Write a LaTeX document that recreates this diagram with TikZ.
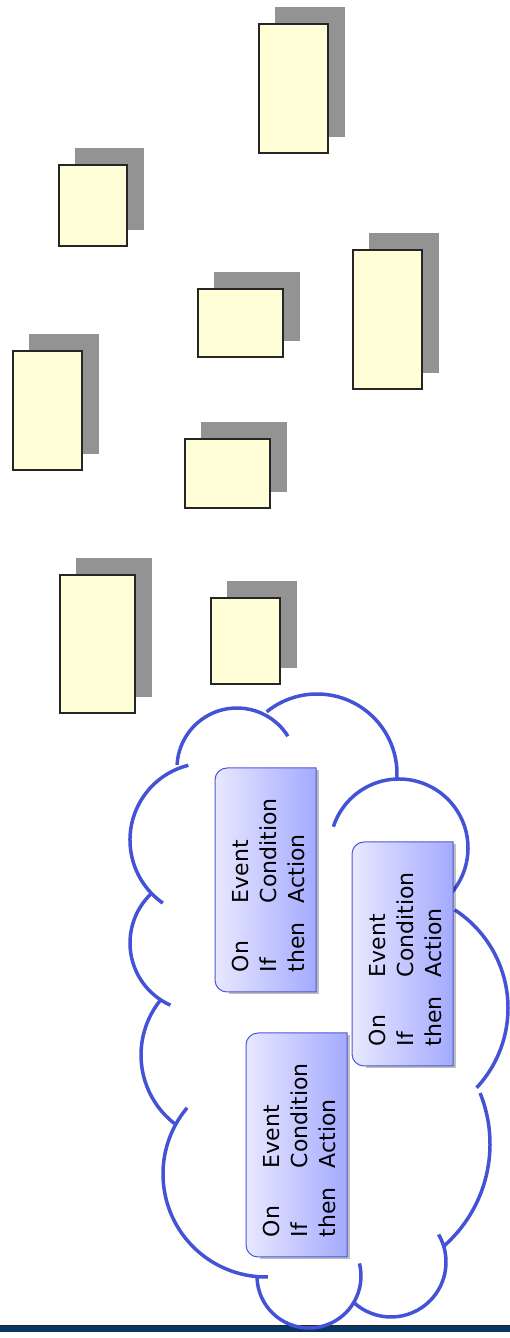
\documentclass[tikz,border=0pt]{standalone}
\usepackage{fontspec}
\setmainfont{DejaVu Sans}
\usepackage{xcolor}
\definecolor{notefill}{HTML}{FFFED6}
\definecolor{noteshadow}{HTML}{939393}
\definecolor{cloudblue}{HTML}{4452D6}
\definecolor{rulelight}{HTML}{E8E8FF}
\definecolor{ruledark}{HTML}{A4AAFF}
\definecolor{ruleedge}{HTML}{4A58D8}
\definecolor{barnavy}{HTML}{0B3563}

\begin{document}
\begin{tikzpicture} [x=1pt, y=1pt] %notes and rule cloud
\useasboundingbox (0,0) rectangle (510,1338);
\fill[barnavy] (0,6) rectangle (510,13);
\fill[black!85] (0,11.5) rectangle (510,13);
\foreach \x/\y/\w/\h in {259/1185/69/129, 59/1092/68/81, 198/981/85/68, 353/949/69/139, 13/868/69/119, 185/830/85/69, 60/625/75/138, 211/654/69/86}
{
\fill[noteshadow] (\x+15.5,\y+15.5) rectangle ++(\w+1.5,\h+1.5);
\filldraw[fill=notefill, draw=black!85, line width=1.3pt] (\x,\y) rectangle ++(\w,\h);
}
\foreach \cx/\cy/\r/\a/\b in {317/564/80/-4/129, 237/570/60/32/177, 207/498/77/104/235, 198/395/68/133/246, 228/283/87/141/232, 266/164/103/140/271, 309/62/52/181/374, 391/76/55/226/390, 354/194/136/-49/22, 391/330/117/-43/57, 399/490/69/-48/162}
\draw[cloudblue, line width=3.5pt] (\cx,\cy) ++(\a:\r) arc [start angle=\a, end angle=\b, radius=\r];
\foreach \x/\y/\n in {215/346/1, 352/272/2, 246/81/3}
{
\fill[black, opacity=0.25] (\x+14,\y-2.5) rectangle ++(89.5,224);
\shadedraw[left color=rulelight, right color=ruledark, draw=ruleedge, line width=1pt] (\x+12,\y) -- (\x+101,\y) -- (\x+101,\y+224) -- (\x+12,\y+224) arc [start angle=90, end angle=180, radius=12] -- (\x,\y+12) arc [start angle=180, end angle=270, radius=12] -- cycle;
\node[rotate=90, anchor=north west, inner sep=0pt, font=\fontsize{22}{28.3}\selectfont] (eca\n) at (\x+13,\y+19.5) {\begin{tabular}{@{}p{69pt}@{}l@{}}On & Event\\ If & Condition\\ then & Action\end{tabular}};
}
\end{tikzpicture}
\end{document}
